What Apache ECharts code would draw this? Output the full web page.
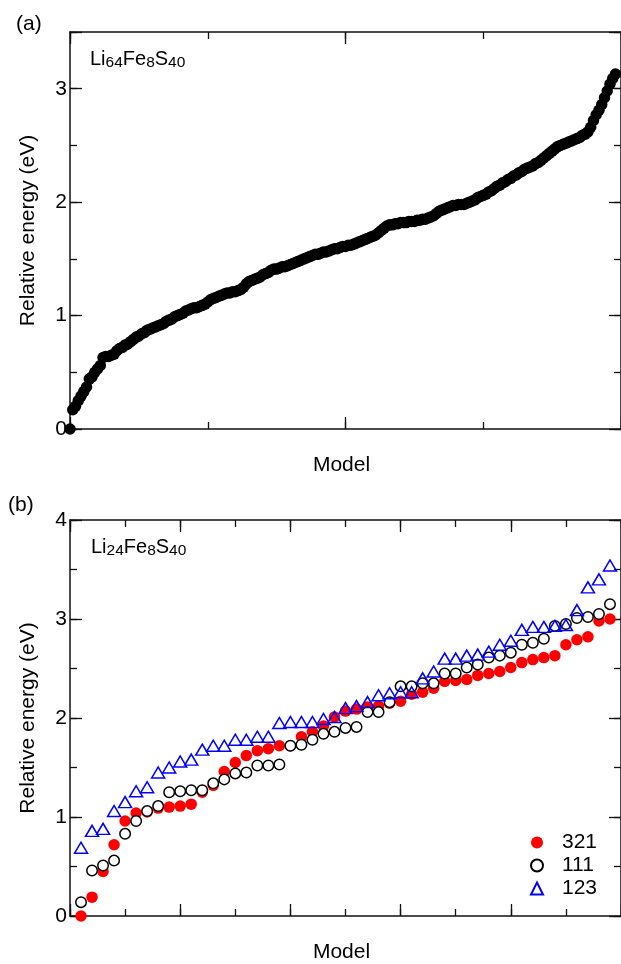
<!DOCTYPE html>
<html>
<head>
<meta charset="utf-8">
<script src="https://cdn.jsdelivr.net/npm/echarts@6/dist/echarts.min.js"></script>
<style>
  html, body { margin: 0; padding: 0; background: #fff; }
  #chart { width: 621px; height: 964px; }
</style>
</head>
<body>
<div id="chart"></div>
<script>
// Panel (a): relative energies of Li64Fe8S40 models, sorted ascending
const energyA = [
  0.00,0.17,0.20,0.25,0.29,0.33,0.37,0.44,0.46,0.50,
  0.53,0.56,0.63,0.64,0.64,0.65,0.66,0.69,0.71,0.72,
  0.74,0.75,0.77,0.79,0.81,0.82,0.84,0.85,0.87,0.88,
  0.89,0.90,0.91,0.92,0.93,0.95,0.96,0.97,0.99,1.00,
  1.01,1.02,1.04,1.05,1.06,1.07,1.07,1.08,1.09,1.10,
  1.12,1.14,1.15,1.16,1.17,1.18,1.19,1.20,1.20,1.21,
  1.21,1.22,1.23,1.25,1.28,1.30,1.31,1.32,1.33,1.34,
  1.36,1.37,1.38,1.40,1.41,1.41,1.42,1.43,1.43,1.44,
  1.45,1.46,1.47,1.48,1.49,1.50,1.51,1.52,1.53,1.54,
  1.54,1.55,1.56,1.56,1.57,1.58,1.59,1.59,1.60,1.61,
  1.61,1.62,1.62,1.63,1.64,1.65,1.66,1.67,1.68,1.69,
  1.70,1.71,1.73,1.75,1.77,1.79,1.80,1.80,1.81,1.81,
  1.82,1.82,1.82,1.83,1.83,1.83,1.84,1.84,1.85,1.85,
  1.86,1.87,1.88,1.90,1.92,1.93,1.94,1.95,1.96,1.97,
  1.97,1.98,1.98,1.98,1.99,2.00,2.01,2.02,2.04,2.05,
  2.06,2.07,2.09,2.10,2.12,2.14,2.15,2.17,2.18,2.20,
  2.21,2.23,2.24,2.26,2.27,2.29,2.30,2.31,2.32,2.34,
  2.35,2.37,2.39,2.41,2.43,2.45,2.47,2.49,2.50,2.51,
  2.52,2.53,2.54,2.55,2.56,2.57,2.59,2.60,2.62,2.66,
  2.72,2.77,2.81,2.86,2.92,2.98,3.04,3.09,3.13
];

// Panel (b): Li24Fe8S40 models, three configurations (models 1..49)
const energy321 = [
  0.00,0.19,0.45,0.72,0.96,1.04,1.05,1.09,1.10,1.11,
  1.13,1.25,1.32,1.46,1.55,1.62,1.67,1.69,1.72,1.72,
  1.81,1.86,1.92,2.01,2.07,2.09,2.11,2.12,2.15,2.17,
  2.24,2.26,2.30,2.37,2.38,2.39,2.43,2.45,2.47,2.51,
  2.56,2.59,2.61,2.63,2.74,2.79,2.82,2.98,3.00
];
const energy111 = [
  0.14,0.46,0.51,0.56,0.83,0.96,1.06,1.11,1.25,1.26,
  1.27,1.27,1.34,1.38,1.44,1.45,1.52,1.52,1.53,1.72,
  1.73,1.78,1.84,1.86,1.90,1.91,2.06,2.06,2.16,2.32,
  2.32,2.35,2.35,2.45,2.45,2.51,2.54,2.61,2.63,2.66,
  2.74,2.76,2.80,2.93,2.95,3.01,3.02,3.05,3.15
];
const energy123 = [
  0.69,0.86,0.88,1.06,1.15,1.26,1.30,1.45,1.50,1.56,
  1.58,1.68,1.72,1.72,1.78,1.78,1.81,1.81,1.95,1.96,
  1.96,1.96,1.99,2.01,2.10,2.12,2.16,2.23,2.25,2.26,
  2.26,2.40,2.47,2.60,2.60,2.63,2.64,2.67,2.74,2.78,
  2.89,2.92,2.92,2.93,2.94,3.09,3.32,3.40,3.54
];

const seriesNames = ['321', '111', '123'];
const yTicksA = { min: 0, max: 3.5, major: 1, minor: 0.5 };
const yTicksB = { min: 0, max: 4, major: 1, minor: 0.5 };
const xTicksA = { min: 0, max: 200, major: 100, minor: 50 };
const xTicksB = { min: 0, max: 50, major: 10, minor: 5 };

const FONT = 'Liberation Sans, Arial, sans-serif';
const INK = '#111';
const AXIS_W = 1.5;

function xAxes(grid, t, withName) {
  const base = (pos, interval, len, line, name) => ({
    type: 'value', gridIndex: grid, position: pos, min: t.min, max: t.max, interval: interval,
    axisLine: { show: line, onZero: false, lineStyle: { color: INK, width: AXIS_W } },
    axisTick: { show: true, inside: true, length: len, lineStyle: { color: INK, width: 1.3 } },
    axisLabel: { show: false }, splitLine: { show: false },
    name: name ? 'Model' : '', nameLocation: 'middle', nameGap: 26,
    nameTextStyle: { fontFamily: FONT, fontSize: 21, color: '#000', padding: [0, 8, 0, 0] }
  });
  return [
    base('bottom', t.major, 12, true, withName),
    base('bottom', t.minor, 7, false, false),
    base('top', t.major, 12, true, false),
    base('top', t.minor, 7, false, false)
  ];
}

function yAxes(grid, t) {
  const base = (pos, interval, len, line, labels) => ({
    type: 'value', gridIndex: grid, position: pos, min: t.min, max: t.max, interval: interval,
    axisLine: { show: line, onZero: false, lineStyle: { color: INK, width: AXIS_W } },
    axisTick: { show: true, inside: true, length: len, lineStyle: { color: INK, width: 1.3 } },
    axisLabel: {
      show: labels, margin: 3, fontFamily: FONT, fontSize: 21, color: '#000',
      formatter: v => (Number.isInteger(v) ? String(v) : '')
    },
    splitLine: { show: false },
    name: labels ? 'Relative energy (eV)' : '', nameLocation: 'middle', nameGap: 31,
    nameTextStyle: { fontFamily: FONT, fontSize: 21, color: '#000' }
  });
  return [
    base('left', t.major, 12, true, true),
    base('left', t.minor, 7, false, false),
    base('right', t.major, 12, true, false),
    base('right', t.minor, 7, false, false)
  ];
}

const formulaRich = {
  m: { fontFamily: FONT, fontSize: 20, fontWeight: 'normal', color: '#000', lineHeight: 23 },
  s: { fontFamily: FONT, fontSize: 15.5, fontWeight: 'normal', color: '#000', lineHeight: 19, verticalAlign: 'bottom' }
};

const option = {
  backgroundColor: '#fff',
  animation: false,
  title: [
    { text: '(a)', left: 16, top: 14, padding: 0, textStyle: { fontFamily: FONT, fontSize: 21, fontWeight: 'normal', color: '#000' } },
    { text: '(b)', left: 8, top: 495, padding: 0, textStyle: { fontFamily: FONT, fontSize: 21, fontWeight: 'normal', color: '#000' } },
    { text: '{m|Li}{s|64}{m|Fe}{s|8}{m|S}{s|40}', left: 90, top: 48, padding: 0, textStyle: { fontWeight: 'normal', rich: formulaRich } },
    { text: '{m|Li}{s|24}{m|Fe}{s|8}{m|S}{s|40}', left: 91, top: 536, padding: 0, textStyle: { fontWeight: 'normal', rich: formulaRich } }
  ],
  legend: {
    orient: 'vertical', left: 525, top: 827, itemWidth: 12, itemHeight: 12, itemGap: 2,
    data: seriesNames,
    textStyle: { fontFamily: FONT, fontSize: 21, color: '#000', padding: [0, 0, 0, 14] }
  },
  grid: [
    { left: 70, top: 32, width: 558, height: 397 },
    { left: 70, top: 520, width: 558, height: 398 }
  ],
  xAxis: [].concat(xAxes(0, xTicksA, true), xAxes(1, xTicksB, true)),
  yAxis: [].concat(yAxes(0, yTicksA), yAxes(1, yTicksB)),
  series: [
    {
      name: 'all', type: 'scatter', xAxisIndex: 0, yAxisIndex: 0, clip: false,
      symbol: 'circle', symbolSize: 11.5,
      itemStyle: { color: '#000', opacity: 1 },
      data: energyA.map((v, i) => [i, v])
    },
    {
      name: seriesNames[0], type: 'scatter', xAxisIndex: 4, yAxisIndex: 4, clip: false,
      symbol: 'circle', symbolSize: 11.5,
      itemStyle: { color: '#ff0000', opacity: 1 },
      data: energy321.map((v, i) => [i + 1, v])
    },
    {
      name: seriesNames[1], type: 'scatter', xAxisIndex: 4, yAxisIndex: 4, clip: false,
      symbol: 'circle', symbolSize: 10.5,
      itemStyle: { color: '#fff', borderColor: '#000', borderWidth: 1.5, opacity: 1 },
      data: energy111.map((v, i) => [i + 1, v])
    },
    {
      name: seriesNames[2], type: 'scatter', xAxisIndex: 4, yAxisIndex: 4, clip: false,
      symbol: 'triangle', symbolSize: [13, 11],
      itemStyle: { color: 'rgba(255,255,255,0)', borderColor: '#0000ff', borderWidth: 1.5, opacity: 1 },
      data: energy123.map((v, i) => [i + 1, v])
    }
  ]
};

const chart = echarts.init(document.getElementById('chart'), null, { renderer: 'canvas' });
chart.setOption(option);
</script>
</body>
</html>
